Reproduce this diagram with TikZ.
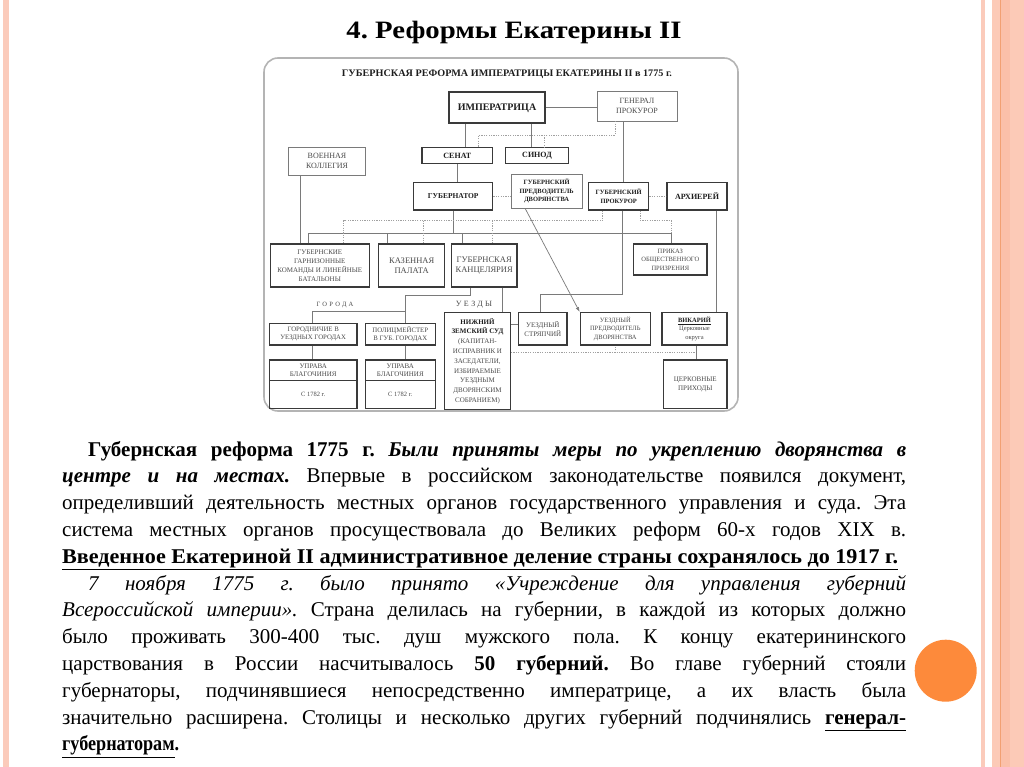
\documentclass[tikz,border=0pt]{standalone}
\usepackage{fontspec}
\setmainfont{Liberation Serif}
\usepackage{graphicx}
\usetikzlibrary{calc,arrows.meta}
\definecolor{salmonA}{HTML}{FBCBBB}
\definecolor{salmonB}{HTML}{FCCAB7}
\definecolor{salmonC}{HTML}{FBC0A9}
\definecolor{orline}{HTML}{F2A072}
\definecolor{orng}{HTML}{FD8A3B}
\definecolor{dk}{HTML}{3A3A3A}
\definecolor{md}{HTML}{7A7A7A}
\definecolor{lt}{HTML}{A0A0A0}
\definecolor{txd}{HTML}{1E1E1E}
\definecolor{txl}{HTML}{4A4A4A}
\definecolor{frm}{HTML}{B4B4B4}
\frenchspacing
\newsavebox\lnbox
\newcommand\jl[2]{\sbox\lnbox{#2}\ifdim\wd\lnbox>#1\relax\resizebox{#1}{\height}{\usebox\lnbox}\else\makebox[#1][s]{#2}\fi}
\newcommand\bodyfont{\fontsize{21}{24}\selectfont}
\tikzset{
  thk/.style={draw=dk, line width=1.2pt, inner sep=0pt, align=center, text=txl},
  thn/.style={draw=md, line width=0.7pt, inner sep=0pt, align=center, text=txl},
  ln/.style={draw=md, line width=0.7pt},
  dt/.style={draw=lt, line width=0.7pt, dash pattern=on 1.2pt off 1.2pt},
  bl/.style={text=txd, font=\fontsize{#1}{#1}\selectfont\bfseries},
  txt/.style={anchor=base west, inner sep=0pt, text=black}
}
\begin{document}
\begin{tikzpicture}[x=1pt,y=-1pt]
\useasboundingbox (0,0) rectangle (1024,767);
\fill[white] (0,0) rectangle (1024,767);
% decorative stripes
\fill[salmonA] (2.7,0) rectangle (9.3,767);
\fill[salmonA] (980.7,0) rectangle (985,767);
\fill[salmonB] (992,0) rectangle (1024,767);
\fill[salmonC] (1001,0) rectangle (1010,767);
\draw[orline, line width=0.8pt] (1000.5,0) -- (1000.5,767);
\fill[orng] (945.7,670.7) circle[radius=31pt];

% title
\node[anchor=base, inner sep=0pt] (title) at (514,39) {\fontsize{25}{28}\selectfont\bfseries\resizebox{335pt}{\height}{4. Реформы Екатерины II}};

% diagram frame
\draw[frm, line width=1.6pt, rounded corners=14pt] (264,58) rectangle (738,411);
\node[anchor=base, inner sep=0pt, text=txd] (dtitle) at (507,76.5) {\fontsize{10}{12}\selectfont\bfseries\resizebox{330pt}{\height}{ГУБЕРНСКАЯ РЕФОРМА ИМПЕРАТРИЦЫ ЕКАТЕРИНЫ II в 1775 г.}};

% boxes
\node[thk, line width=1.7pt, minimum width=96.6pt, minimum height=31pt, bl=10] (imp) at (497,107.8) {ИМПЕРАТРИЦА};
\node[thn, minimum width=80pt, minimum height=29.3pt, font=\fontsize{8}{10}\selectfont] (gen) at (637,106.3) {ГЕНЕРАЛ\\ПРОКУРОР};
\node[thk, minimum width=70.7pt, minimum height=15.6pt, bl=8] (senat) at (457.3,155.5) {СЕНАТ};
\node[thk, minimum width=63.4pt, minimum height=15.6pt, bl=8] (sinod) at (537,155.5) {СИНОД};
\node[thn, minimum width=76.6pt, minimum height=27.3pt, font=\fontsize{8}{10}\selectfont] (voen) at (327,161.3) {ВОЕННАЯ\\КОЛЛЕГИЯ};
\node[thk, line width=1.5pt, minimum width=79pt, minimum height=27.3pt, bl=7.5] (gub) at (453.2,196.3) {ГУБЕРНАТОР};
\node[thn, minimum width=70.7pt, minimum height=34.3pt, text=txd, font=\fontsize{6.5}{8.3}\selectfont\bfseries] (gpred) at (546.7,191.2) {ГУБЕРНСКИЙ\\ПРЕДВОДИТЕЛЬ\\ДВОРЯНСТВА};
\node[thk, line width=1.5pt, minimum width=60pt, minimum height=27.3pt, text=txd, font=\fontsize{6.5}{8.5}\selectfont\bfseries] (gprok) at (618.7,196.3) {ГУБЕРНСКИЙ\\ПРОКУРОР};
\node[thk, line width=1.5pt, minimum width=60pt, minimum height=27.3pt, bl=8] (arh) at (697,196.3) {АРХИЕРЕЙ};

\node[thk, minimum width=99pt, minimum height=43pt, font=\fontsize{7}{9}\selectfont] (garn) at (319.8,265.5) {ГУБЕРНСКИЕ\\ГАРНИЗОННЫЕ\\КОМАНДЫ И ЛИНЕЙНЫЕ\\БАТАЛЬОНЫ};
\node[thk, minimum width=66pt, minimum height=43pt, font=\fontsize{8.5}{10.5}\selectfont] (kaz) at (411.7,265.5) {КАЗЕННАЯ\\ПАЛАТА};
\node[thk, minimum width=65.7pt, minimum height=43pt, font=\fontsize{8.5}{10.5}\selectfont] (kanc) at (484.2,265.5) {ГУБЕРНСКАЯ\\КАНЦЕЛЯРИЯ};
\node[thk, minimum width=73.3pt, minimum height=31pt, font=\fontsize{6.5}{8.5}\selectfont] (prik) at (670.3,259.5) {ПРИКАЗ\\ОБЩЕСТВЕННОГО\\ПРИЗРЕНИЯ};

\node[inner sep=0pt, text=txl, font=\fontsize{6.5}{7}\selectfont\addfontfeatures{LetterSpace=35}] (lgor) at (335,305) {ГОРОДА};
\node[inner sep=0pt, text=txl, font=\fontsize{8}{9}\selectfont\addfontfeatures{LetterSpace=30}] (luez) at (474,305) {УЕЗДЫ};

\node[thk, minimum width=87.7pt, minimum height=21.7pt, font=\fontsize{6.8}{8.3}\selectfont] (gorod) at (313.2,334.2) {ГОРОДНИЧИЕ В\\УЕЗДНЫХ ГОРОДАХ};
\node[thk, minimum width=70pt, minimum height=21.7pt, font=\fontsize{6.8}{8.3}\selectfont] (polic) at (400.3,334.2) {ПОЛИЦМЕЙСТЕР\\В ГУБ. ГОРОДАХ};
\node[thk, minimum width=87.7pt, minimum height=20.7pt, font=\fontsize{7}{8.5}\selectfont] (u1a) at (313.2,370.3) {УПРАВА\\БЛАГОЧИНИЯ};
\node[thk, minimum width=87.7pt, minimum height=27.6pt, font=\fontsize{6.5}{8}\selectfont] (u1b) at (313.2,394.5) {С 1782 г.};
\node[thk, minimum width=70pt, minimum height=20.7pt, font=\fontsize{7}{8.5}\selectfont] (u2a) at (400.3,370.3) {УПРАВА\\БЛАГОЧИНИЯ};
\node[thk, minimum width=70pt, minimum height=27.6pt, font=\fontsize{6.5}{8}\selectfont] (u2b) at (400.3,394.5) {С 1782 г.};

\node[thk, line width=1.5pt, minimum width=65.6pt, minimum height=96.6pt, font=\fontsize{7}{9.8}\selectfont] (zemsk) at (477.5,361) {\textcolor{txd}{\bfseries НИЖНИЙ}\\\textcolor{txd}{\bfseries ЗЕМСКИЙ СУД}\\(КАПИТАН-\\ИСПРАВНИК И\\ЗАСЕДАТЕЛИ,\\ИЗБИРАЕМЫЕ\\УЕЗДНЫМ\\ДВОРЯНСКИМ\\СОБРАНИЕМ)};
\node[thk, minimum width=48.3pt, minimum height=32.3pt, font=\fontsize{7}{8.8}\selectfont] (stryap) at (542.8,328.8) {УЕЗДНЫЙ\\СТРЯПЧИЙ};
\node[thk, minimum width=70pt, minimum height=32.3pt, font=\fontsize{6.5}{8.3}\selectfont] (upred) at (615.3,328.8) {УЕЗДНЫЙ\\ПРЕДВОДИТЕЛЬ\\ДВОРЯНСТВА};
\node[thk, minimum width=65pt, minimum height=32.3pt, font=\fontsize{6.5}{8.5}\selectfont] (vik) at (694.5,328.8) {\textcolor{txd}{\underline{\bfseries ВИКАРИЙ}}\\Церковные\\округа};
\node[thk, minimum width=63.3pt, minimum height=48.3pt, font=\fontsize{7}{9}\selectfont] (prih) at (695.3,384.2) {ЦЕРКОВНЫЕ\\ПРИХОДЫ};

% junction coordinates
\coordinate (c1) at (465.3,0);
\coordinate (c2) at (531.3,0);
\coordinate (c3) at (623.7,0);
\coordinate (c4) at (300.3,0);
\coordinate (c5) at (716,0);
\coordinate (c6) at (502,0);
\coordinate (d1) at (615.3,135);
\coordinate (d2) at (478.7,135);
\coordinate (d3) at (544.7,135);
\coordinate (b1) at (308.7,233.3);
\coordinate (b2) at (671.3,233.3);
\coordinate (b3) at (387,233.3);
\coordinate (b4) at (462,233.3);
\coordinate (e1) at (602.7,220.7);
\coordinate (e2) at (343.7,220.7);
\coordinate (e3) at (423,220.7);
\coordinate (e4) at (492,220.7);
\coordinate (e5) at (640.3,220.7);
\coordinate (e6) at (671.3,220.7);
\coordinate (f1) at (470.3,295);
\coordinate (f2) at (405.3,295);
\coordinate (f3) at (405.3,311.7);
\coordinate (f4) at (312,311.7);
\coordinate (g1) at (622,294.5);
\coordinate (g2) at (540.3,294.5);
\coordinate (h1) at (0,324);
\coordinate (k1) at (696,352.7);
\coordinate (k2) at (615.3,352.7);

% connectors
\draw[ln] (imp.east) -- (gen.west |- imp.east);
\draw[ln] (imp.south -| c1) -- (senat.north -| c1);
\draw[ln] (imp.south -| c2) -- (sinod.north -| c2);
\draw[dt] (gen.south -| d1) -- (d1) -- (d2) -- (senat.north -| d2);
\draw[dt] (d3) -- (sinod.north -| d3);
\draw[ln] (gen.south -| c3) -- (gprok.north -| c3);
\draw[ln] (voen.south -| c4) -- (garn.north -| c4);
\draw[ln] (senat.south) -- (gub.north -| senat.south);
\draw[dt] (gub.east) -- (gpred.west |- gub.east);
\draw[dt] (gprok.east) -- (arh.west);
\draw[ln, -{Latex[length=5pt,width=3.5pt]}] ($(gpred.south west)!0.2!(gpred.south east)$) -- (upred.north west);
\draw[ln] (arh.south -| c5) -- (vik.north -| c5);
\draw[ln] (gub.south) -- (gub.south |- b1);
\draw[ln] (garn.north -| b1) -- (b1) -- (b2) -- (prik.north -| b2);
\draw[ln] (b3) -- (kaz.north -| b3);
\draw[ln] (b4) -- (kanc.north -| b4);
\draw[dt] (gprok.south -| e1) -- (e1) -- (e2) -- (garn.north -| e2);
\draw[dt] (e3) -- (kaz.north -| e3);
\draw[dt] (e4) -- (kanc.north -| e4);
\draw[dt] (gprok.south -| e5) -- (e5) -- (e6) -- (b2);
\draw[ln] (kanc.south -| f1) -- (f1) -- (f2) -- (polic.north -| f2);
\draw[ln] (f3) -- (f4) -- (gorod.north -| f4);
\draw[ln] (kanc.south -| c6) -- (zemsk.north -| c6);
\draw[ln] (gprok.south -| g1) -- (g1) -- (g2) -- (stryap.north -| g2);
\draw[ln] (zemsk.east |- h1) -- (stryap.west |- h1);
\draw[ln] (gorod.south -| f4) -- (u1a.north -| f4);
\draw[ln] (polic.south -| f2) -- (u2a.north -| f2);
\draw[dt] (zemsk.east |- k1) -- (k1);
\draw[dt] (k2) -- (upred.south -| k2);
\draw[ln] (vik.south -| k1) -- (prih.north -| k1);

% body text
\node[txt] (l1) at (88,456) {\bodyfont\jl{818pt}{\textbf{Губернская реформа 1775 г.} \textbf{\textit{Были приняты меры по укреплению дворянства в}}}};
\node[txt] (l2) at (62,482.8) {\bodyfont\jl{844pt}{\textbf{\textit{центре и на местах.}} Впервые в российском законодательстве появился документ,}};
\node[txt] (l3) at (62,509.6) {\bodyfont\jl{844pt}{определивший деятельность местных органов государственного управления и суда. Эта}};
\node[txt] (l4) at (62,536.4) {\bodyfont\jl{844pt}{система местных органов просуществовала до Великих реформ 60-х годов XIX в.}};
\node[txt] (l5) at (62,563.2) {\bodyfont\resizebox{836pt}{\height}{\underline{\textbf{Введенное Екатериной II административное деление страны сохранялось до 1917 г.}}}};
\node[txt] (l6) at (88,590) {\bodyfont\jl{818pt}{\textit{7 ноября 1775 г. было принято «Учреждение для управления губерний}}};
\node[txt] (l7) at (62,616.8) {\bodyfont\jl{844pt}{\textit{Всероссийской империи».} Страна делилась на губернии, в каждой из которых должно}};
\node[txt] (l8) at (62,643.6) {\bodyfont\jl{844pt}{было проживать 300-400 тыс. душ мужского пола. К концу екатерининского}};
\node[txt] (l9) at (62,670.4) {\bodyfont\jl{844pt}{царствования в России насчитывалось \textbf{50 губерний.} Во главе губерний стояли}};
\node[txt] (l10) at (62,697.2) {\bodyfont\jl{844pt}{губернаторы, подчинявшиеся непосредственно императрице, а их власть была}};
\node[txt] (l11) at (62,724) {\bodyfont\jl{844pt}{значительно расширена. Столицы и несколько других губерний подчинялись \underline{\textbf{генерал-}}}};
\node[txt] (l12) at (62,750.8) {\bodyfont\resizebox{117pt}{\height}{\underline{\textbf{губернаторам}}\textbf{.}}};
\end{tikzpicture}
\end{document}
